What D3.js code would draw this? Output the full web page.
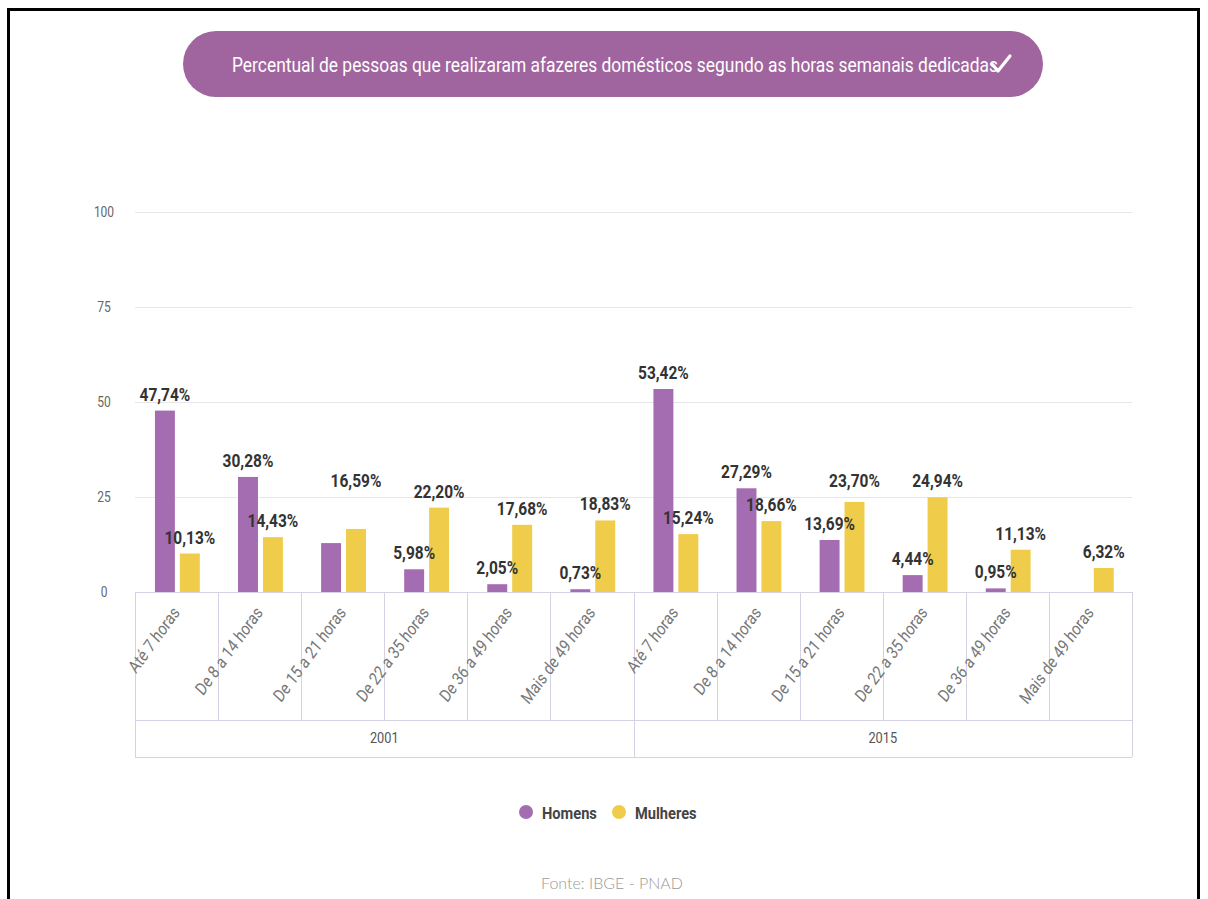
<!DOCTYPE html>
<meta charset="utf-8">
<style>
body{margin:0;background:#fff;}
svg{position:absolute;left:0;top:0;}
text{font-family:Roboto,'Open Sans',sans-serif;}
.tick-y{font-size:15px;fill:#666;}
.cat{font-size:17px;fill:#777;}
.grp{font-size:15px;fill:#555;}
.val{font-size:18px;font-weight:bold;fill:#333;}
.leg{font-size:17px;font-weight:bold;fill:#444;}
.fonte{font-family:Lato,sans-serif;font-weight:300;font-size:16px;fill:#999;}
</style>
<script src="https://d3js.org/d3.v7.min.js"></script>
<svg width="1208" height="899"></svg>
<script>
// dados (IBGE - PNAD)
var years = ["2001", "2015"];
var categories = ["Até 7 horas", "De 8 a 14 horas", "De 15 a 21 horas", "De 22 a 35 horas", "De 36 a 49 horas", "Mais de 49 horas"];
var seriesNames = ["Homens", "Mulheres"];
var homens2001 = [47.74, 30.28, 12.87, 5.98, 2.05, 0.73];
var mulheres2001 = [10.13, 14.43, 16.59, 22.20, 17.68, 18.83];
var homens2015 = [53.42, 27.29, 13.69, 4.44, 0.95, null];
var mulheres2015 = [15.24, 18.66, 23.70, 24.94, 11.13, 6.32];
var yTicks = [0, 25, 50, 75, 100];

var values = {
  "2001": [homens2001, mulheres2001],
  "2015": [homens2015, mulheres2015]
};
// rotulos escondidos no original (sobreposicao)
var hiddenLabel = {"2001|2|0": true};
var labelLift = {"2001|2|1": 32, "2015|2|1": 5};

var colors = ["#a46cb1", "#efcd4a"];

var svg = d3.select("svg");

// aperta o texto horizontalmente (fonte condensada no original)
function squeeze(sel, k) {
  sel.each(function() {
    var len = this.getComputedTextLength();
    d3.select(this).attr("textLength", len * k).attr("lengthAdjust", "spacingAndGlyphs");
  });
}

// moldura
svg.append("path")
  .attr("d", "M8.5,905 V9.5 H1198.5 V905")
  .attr("fill", "none").attr("stroke", "#000").attr("stroke-width", 3);

// titulo
svg.append("rect")
  .attr("x", 183).attr("y", 31).attr("width", 860).attr("height", 66)
  .attr("rx", 33).attr("fill", "#a0659e");
svg.append("text")
  .attr("x", 232).attr("y", 72)
  .style("font-size", "21px").style("fill", "#fff")
  .text("Percentual de pessoas que realizaram afazeres domésticos segundo as horas semanais dedicadas")
  .attr("textLength", 766).attr("lengthAdjust", "spacingAndGlyphs");
svg.append("path")
  .attr("d", "M992,64 L998,71 L1010,56")
  .attr("fill", "none").attr("stroke", "#fff").attr("stroke-width", 3.2)
  .attr("stroke-linecap", "round").attr("stroke-linejoin", "round");

// escalas
var left = 135, right = 1132;
var y = d3.scaleLinear().domain([0, 100]).range([592, 212]);
var xYear = d3.scaleBand().domain(years).range([left, right]);
var xCat = d3.scaleBand().domain(d3.range(categories.length)).range([0, xYear.bandwidth()]);
var xSer = d3.scaleBand().domain([0, 1])
  .range([xCat.bandwidth() * 0.24, xCat.bandwidth() * 0.78]).paddingInner(0.2);

// grade
svg.append("g").selectAll("line").data(yTicks).join("line")
  .attr("x1", left).attr("x2", right)
  .attr("y1", function(d) { return Math.round(y(d)) + 0.5; })
  .attr("y2", function(d) { return Math.round(y(d)) + 0.5; })
  .attr("stroke", "#e6e6e6");
svg.append("g").selectAll("text").data(yTicks).join("text")
  .attr("class", "tick-y")
  .attr("x", 104).attr("y", function(d) { return y(d) + 5; })
  .attr("text-anchor", "middle")
  .text(function(d) { return d; })
  .call(squeeze, 0.8);

// eixo x agrupado
var boxC = "#d6d2e6";
var yBase = 592, yRow1 = 720, yRow2 = 757;
var ax = svg.append("g");
[yBase, yRow1, yRow2].forEach(function(yy) {
  ax.append("line").attr("x1", left).attr("x2", right).attr("y1", yy + 0.5).attr("y2", yy + 0.5).attr("stroke", boxC);
});
years.forEach(function(yr) {
  var x0 = xYear(yr);
  ax.append("line").attr("x1", Math.round(x0) + 0.5).attr("x2", Math.round(x0) + 0.5)
    .attr("y1", yBase).attr("y2", yRow2).attr("stroke", boxC);
  categories.forEach(function(c, i) {
    if (i > 0) {
      var xx = Math.round(x0 + xCat(i)) + 0.5;
      ax.append("line").attr("x1", xx).attr("x2", xx).attr("y1", yBase).attr("y2", yRow1).attr("stroke", boxC);
    }
    var cx = x0 + xCat(i) + xCat.bandwidth() / 2;
    ax.append("text").attr("class", "cat")
      .attr("text-anchor", "end")
      .attr("transform", "translate(" + (cx + 4) + "," + (yBase + 21) + ") rotate(-54) skewX(-6)")
      .text(c)
      .call(squeeze, 0.88);
  });
  ax.append("text").attr("class", "grp")
    .attr("x", x0 + xYear.bandwidth() / 2).attr("y", 743)
    .attr("text-anchor", "middle").text(yr)
    .call(squeeze, 0.85);
});
ax.append("line").attr("x1", right + 0.5).attr("x2", right + 0.5).attr("y1", yBase).attr("y2", yRow2).attr("stroke", boxC);

// barras
var bars = [];
years.forEach(function(yr) {
  values[yr].forEach(function(arr, s) {
    arr.forEach(function(v, i) {
      bars.push({year: yr, s: s, i: i, v: v, key: yr + "|" + i + "|" + s});
    });
  });
});
var valid = bars.filter(function(d) { return d.v != null; });

svg.append("g").selectAll("rect").data(valid).join("rect")
  .attr("x", function(d) { return xYear(d.year) + xCat(d.i) + xSer(d.s); })
  .attr("width", xSer.bandwidth())
  .attr("y", function(d) { return y(d.v); })
  .attr("height", function(d) { return y(0) - y(d.v); })
  .attr("fill", function(d) { return colors[d.s]; });

function fmt(v) { return v.toFixed(2).replace(".", ",") + "%"; }

svg.append("g").selectAll("text")
  .data(valid.filter(function(d) { return !hiddenLabel[d.key]; }))
  .join("text")
  .attr("class", "val")
  .attr("text-anchor", "middle")
  .attr("x", function(d) { return xYear(d.year) + xCat(d.i) + xSer(d.s) + xSer.bandwidth() / 2; })
  .attr("y", function(d) { return y(d.v) - 10 - (labelLift[d.key] || 0); })
  .text(function(d) { return fmt(d.v); })
  .call(squeeze, 0.86);

// legenda
var leg = svg.append("g");
var legX = [526, 619];
seriesNames.forEach(function(n, s) {
  leg.append("circle").attr("cx", legX[s]).attr("cy", 812).attr("r", 7).attr("fill", colors[s]);
  leg.append("text").attr("class", "leg").attr("x", legX[s] + 16).attr("y", 819).text(n)
    .call(squeeze, 0.86);
});

svg.append("text").attr("class", "fonte")
  .attr("x", 612).attr("y", 889).attr("text-anchor", "middle")
  .text("Fonte: IBGE - PNAD");
</script>
